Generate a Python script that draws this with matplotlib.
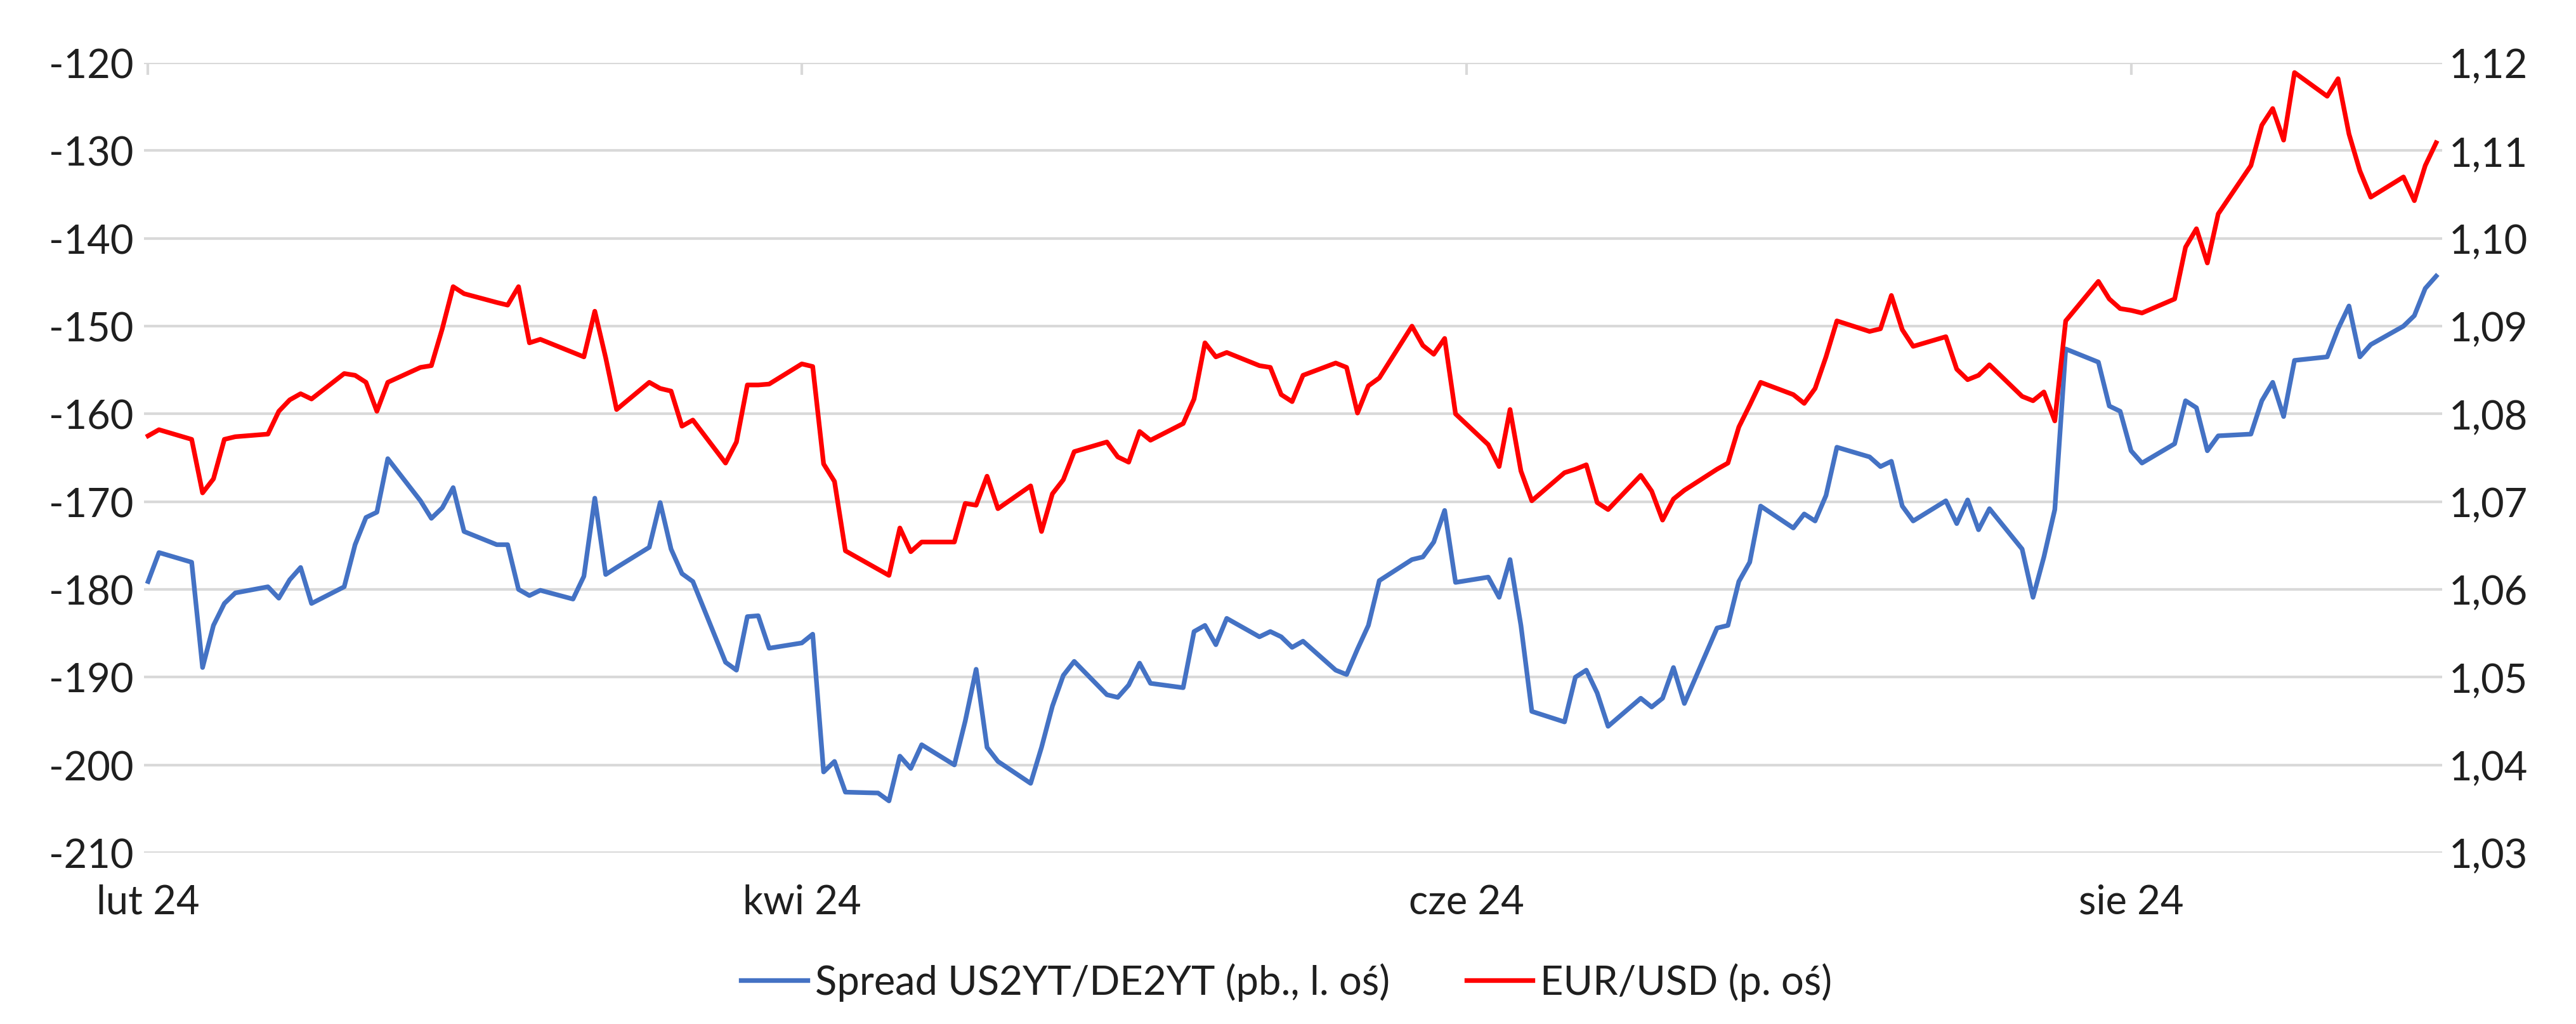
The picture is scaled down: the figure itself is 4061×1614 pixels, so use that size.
import pandas as pd
import matplotlib
matplotlib.use("Agg")
import matplotlib.pyplot as plt
from matplotlib.ticker import FuncFormatter

plt.rcParams['font.family'] = ['Lato', 'DejaVu Sans']
plt.rcParams['axes.unicode_minus'] = False

# ─── Data (business days, 1 Feb – 29 Aug 2024) ───────────────────────────────
spread_feb = [-179.1, -175.8, -176.9, -188.9, -184.1, -181.6, -180.4, -179.7, -181.0, -178.9,
              -177.5, -181.6, -179.7, -174.9, -171.8, -171.2, -165.1, -169.9, -171.9, -170.7,
              -168.4]
spread_mar = [-173.4, -174.9, -174.9, -180.0, -180.7, -180.1, -181.1, -178.5, -169.6, -178.3,
              -177.5, -175.2, -170.1, -175.4, -178.2, -179.1, -188.3, -189.2, -183.1, -183.0,
              -186.7]
spread_apr = [-186.1, -185.1, -200.8, -199.6, -203.1, -203.2, -204.1, -199.0, -200.4, -197.7,
              -200.0, -195.0, -189.1, -198.0, -199.6, -202.1, -198.0, -193.3, -189.8, -188.2,
              -192.0, -192.3]
spread_may = [-190.9, -188.4, -190.7, -191.2, -184.8, -184.1, -186.3, -183.3, -185.4, -184.8,
              -185.4, -186.6, -185.9, -189.2, -189.7, -186.8, -184.1, -179.0, -176.6, -176.3,
              -174.6, -171.0, -179.2]
spread_jun = [-178.6, -180.9, -176.6, -184.1, -193.9, -195.1, -190.0, -189.2, -191.8, -195.6,
              -192.4, -193.4, -192.4, -188.9, -193.0, -184.4, -184.1, -179.1, -176.9, -170.5]
spread_jul = [-173.0, -171.4, -172.2, -169.3, -163.8, -164.9, -166.0, -165.4, -170.5, -172.2,
              -169.9, -172.5, -169.8, -173.2, -170.8, -175.4, -180.9, -176.3, -170.9, -152.6,
              -154.1, -159.1, -159.7]
spread_aug = [-164.2, -165.6, -163.4, -158.5, -159.3, -164.2, -162.5, -162.3, -158.5, -156.4,
              -160.3, -153.9, -153.5, -150.3, -147.7, -153.5, -152.1, -150.0, -148.8, -145.7,
              -144.3]

eurusd_feb = [1.0775, 1.0782, 1.0771, 1.0710, 1.0726, 1.0771, 1.0774, 1.0777, 1.0803, 1.0816,
              1.0823, 1.0817, 1.0846, 1.0844, 1.0836, 1.0803, 1.0836, 1.0853, 1.0855, 1.0897,
              1.0945]
eurusd_mar = [1.0937, 1.0927, 1.0924, 1.0945, 1.0881, 1.0885, 1.0870, 1.0865, 1.0917, 1.0864,
              1.0805, 1.0836, 1.0829, 1.0826, 1.0786, 1.0793, 1.0744, 1.0768, 1.0833, 1.0833,
              1.0834]
eurusd_apr = [1.0857, 1.0854, 1.0743, 1.0723, 1.0644, 1.0623, 1.0616, 1.0670, 1.0643, 1.0654,
              1.0654, 1.0698, 1.0696, 1.0729, 1.0692, 1.0718, 1.0666, 1.0709, 1.0725, 1.0757,
              1.0768, 1.0751]
eurusd_may = [1.0745, 1.0780, 1.0770, 1.0789, 1.0817, 1.0881, 1.0865, 1.0870, 1.0855, 1.0853,
              1.0822, 1.0814, 1.0844, 1.0858, 1.0853, 1.0801, 1.0832, 1.0841, 1.0900, 1.0878,
              1.0868, 1.0886, 1.0800]
eurusd_jun = [1.0765, 1.0740, 1.0805, 1.0735, 1.0701, 1.0733, 1.0737, 1.0742, 1.0699, 1.0691,
              1.0730, 1.0712, 1.0679, 1.0703, 1.0713, 1.0737, 1.0744, 1.0785, 1.0810, 1.0836]
eurusd_jul = [1.0822, 1.0812, 1.0829, 1.0865, 1.0906, 1.0894, 1.0897, 1.0935, 1.0896, 1.0877,
              1.0888, 1.0851, 1.0839, 1.0844, 1.0856, 1.0820, 1.0815, 1.0825, 1.0792, 1.0906,
              1.0951, 1.0931, 1.0920]
eurusd_aug = [1.0918, 1.0915, 1.0931, 1.0990, 1.1011, 1.0972, 1.1028, 1.1083, 1.1129, 1.1148,
              1.1112, 1.1189, 1.1162, 1.1182, 1.1119, 1.1077, 1.1047, 1.1070, 1.1043, 1.1083,
              1.1109]

dates = pd.bdate_range("2024-02-01", "2024-08-29")
spread = spread_feb + spread_mar + spread_apr + spread_may + spread_jun + spread_jul + spread_aug
eurusd = eurusd_feb + eurusd_mar + eurusd_apr + eurusd_may + eurusd_jun + eurusd_jul + eurusd_aug

tick_dates = pd.to_datetime(["2024-02-01", "2024-04-01", "2024-06-01", "2024-08-01"])
tick_labels = ["lut 24", "kwi 24", "cze 24", "sie 24"]
left_ticks = list(range(-210, -119, 10))
right_ticks = [1.03, 1.04, 1.05, 1.06, 1.07, 1.08, 1.09, 1.10, 1.11, 1.12]

label_spread = "Spread US2YT/DE2YT (pb., l. oś)"
label_eurusd = "EUR/USD (p. oś)"

# ─── Style ───────────────────────────────────────────────────────────────────
BLUE = "#4472C4"
RED = "#FF0000"
GRID = "#D9D9D9"
TXT = "#1F1F1F"
FS = 45.5

fig = plt.figure(figsize=(40.61, 16.15), dpi=100)
ax = fig.add_axes([0.0559, 0.1672, 0.8921, 0.7708])
ax2 = ax.twinx()

l1, = ax.plot(dates, spread, color=BLUE, lw=5.3, label=label_spread)
l2, = ax2.plot(dates, eurusd, color=RED, lw=5.3, label=label_eurusd)

ax.set_ylim(-210, -120)
ax2.set_ylim(1.03, 1.12)
ax.set_yticks(left_ticks)
ax2.set_yticks(right_ticks)
ax2.yaxis.set_major_formatter(FuncFormatter(lambda v, p: f"{v:.2f}".replace(".", ",")))

ax.set_xlim(pd.Timestamp("2024-02-01") - pd.Timedelta(hours=9),
            pd.Timestamp("2024-08-29") + pd.Timedelta(hours=13))
ax.set_xticks(tick_dates)
ax.set_xticklabels(tick_labels)

ax.grid(axis="y", color=GRID, lw=3)
ax.set_axisbelow(True)
for a in (ax, ax2):
    for s in a.spines.values():
        s.set_visible(False)

ax.tick_params(axis="x", top=True, bottom=False, direction="in", length=14, width=3,
               color=GRID, labelbottom=True, labeltop=False, pad=35, labelsize=FS,
               labelcolor=TXT)
ax.tick_params(axis="y", length=0, pad=12, labelsize=FS, labelcolor=TXT)
ax2.tick_params(axis="y", length=0, pad=8, labelsize=FS, labelcolor=TXT)

fig.legend(handles=[l1, l2], loc="center", bbox_to_anchor=(0.4995, 0.041), ncol=2,
           frameon=False, fontsize=FS, handlelength=1.65, handletextpad=0.2,
           columnspacing=1.9, labelcolor=TXT)

plt.savefig("out.png", dpi=100)
